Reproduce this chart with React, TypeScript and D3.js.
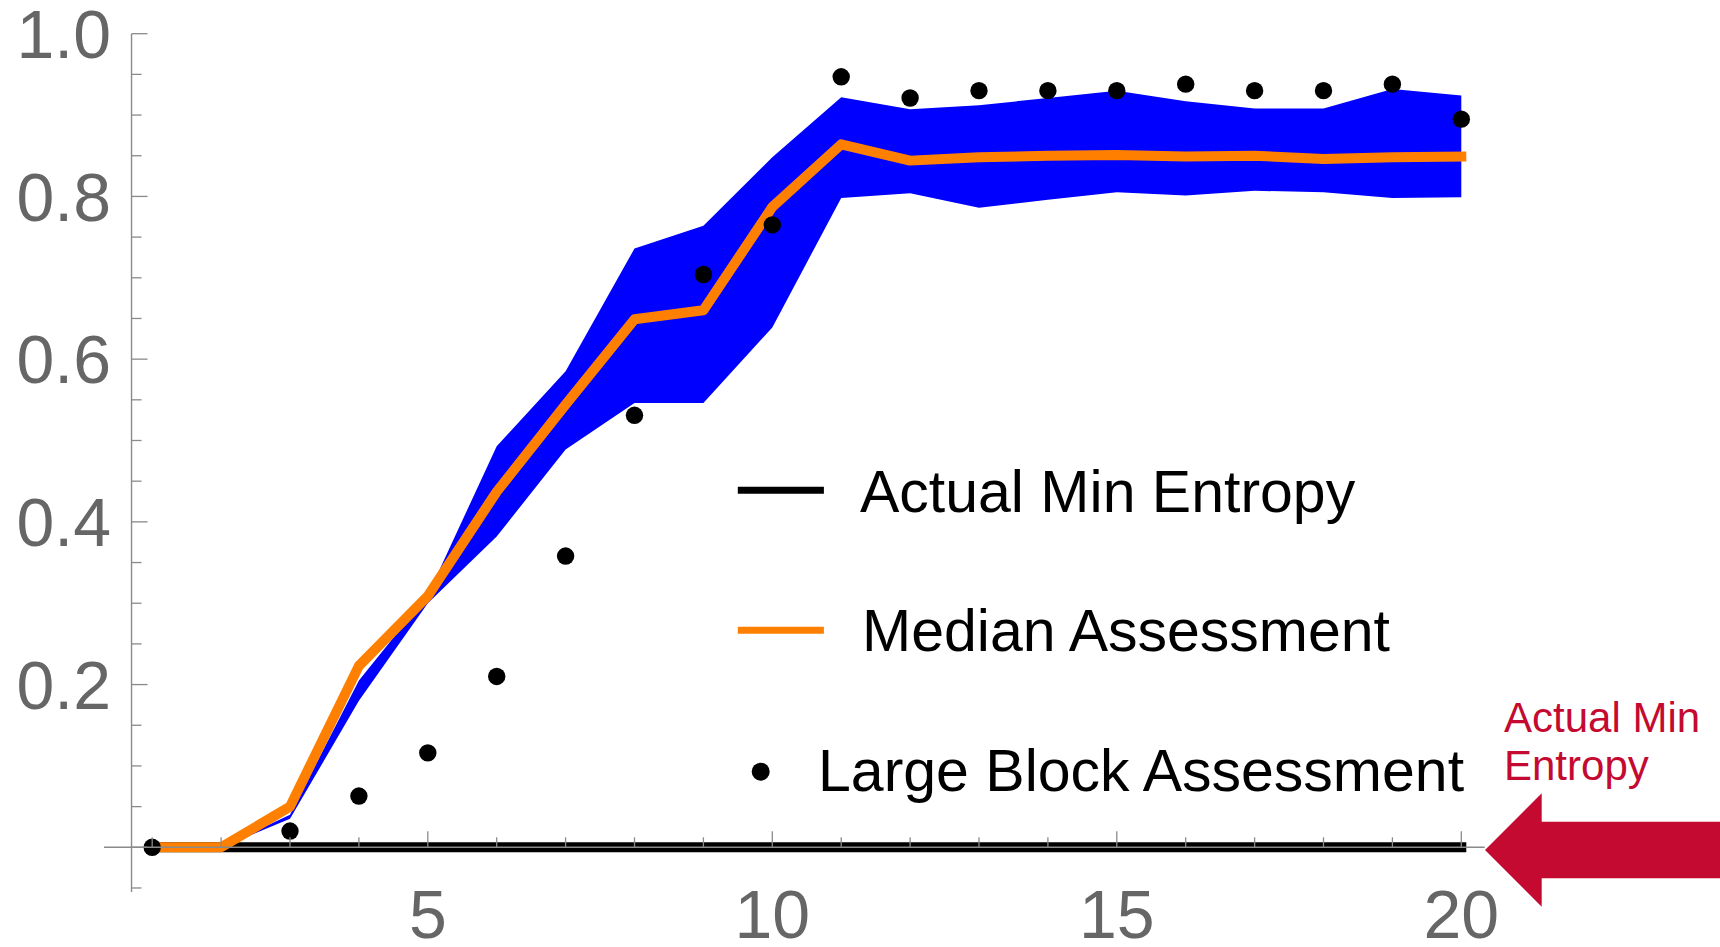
import React from "react";
import * as d3 from "d3";

// ---- data ----
const X_VALUES = [1, 2, 3, 4, 5, 6, 7, 8, 9, 10, 11, 12, 13, 14, 15, 16, 17, 18, 19, 20];
const ACTUAL_MIN_ENTROPY = [0, 0, 0, 0, 0, 0, 0, 0, 0, 0, 0, 0, 0, 0, 0, 0, 0, 0, 0, 0];
const MEDIAN = [0, 0, 0.05, 0.223, 0.309, 0.437, 0.544, 0.649, 0.66, 0.787, 0.864, 0.844, 0.848, 0.85, 0.851, 0.849, 0.85, 0.846, 0.848, 0.849];
const BAND_UPPER = [0, 0, 0.04, 0.205, 0.31, 0.493, 0.585, 0.736, 0.764, 0.848, 0.922, 0.907, 0.912, 0.921, 0.93, 0.917, 0.908, 0.908, 0.932, 0.924];
const BAND_LOWER = [0, 0, 0.035, 0.18, 0.3, 0.382, 0.489, 0.546, 0.546, 0.639, 0.798, 0.804, 0.786, 0.796, 0.805, 0.801, 0.807, 0.805, 0.798, 0.799];
const LARGE_BLOCK: (number | null)[] = [0, null, 0.02, 0.063, 0.116, 0.21, 0.358, 0.531, 0.704, 0.765, 0.947, 0.921, 0.93, 0.93, 0.93, 0.938, 0.93, 0.93, 0.938, 0.895];

const Y_TICK_VALUES = [0.2, 0.4, 0.6, 0.8, 1.0];
const Y_TICK_LABELS = ["0.2", "0.4", "0.6", "0.8", "1.0"];
const X_TICK_VALUES = [5, 10, 15, 20];
const X_TICK_LABELS = ["5", "10", "15", "20"];

const LEGEND_LABELS = ["Actual Min Entropy", "Median Assessment", "Large Block Assessment"];
const ANNOTATION_LINES = ["Actual Min", "Entropy"];

// ---- styles ----
const FONT = "'Liberation Sans', Arial, Helvetica, sans-serif";
const AXIS_COLOR = "#8a8a8a";
const LABEL_COLOR = "#666666";
const BLUE = "#0000ff";
const ORANGE = "#ff8000";
const RED = "#c40a31";

export default function App() {
  const W = 1720;
  const H = 947;
  const x = d3.scaleLinear().domain([1, 20]).range([152.2, 1461.3]);
  const y = d3.scaleLinear().domain([0, 1]).range([847.3, 33.7]);

  const idx = X_VALUES.map((_, i) => i);

  const area = d3
    .area<number>()
    .x((i) => x(X_VALUES[i]))
    .y0((i) => y(BAND_LOWER[i]))
    .y1((i) => y(BAND_UPPER[i]));

  const lineOf = (vals: number[]) =>
    d3
      .line<number>()
      .x((i) => x(X_VALUES[i]))
      .y((i) => y(vals[i]))(idx) as string;

  const yAxisX = x(0.7);
  const yMinor = d3.range(-0.05, 1.0001, 0.05).map((v) => Math.round(v * 100) / 100);
  const xMinor = X_VALUES;

  const legendX0 = 737.8;
  const legendX1 = 823.9;
  const LEG_FS = 59;

  return (
    <svg
      width={W}
      height={H}
      style={{ position: "absolute", left: 0, top: 0, background: "#fff" }}
      fontFamily={FONT}
    >
      <rect x={0} y={0} width={W} height={H} fill="#fff" />
      {/* band */}
      <path d={area(idx) as string} fill={BLUE} />
      {/* actual min entropy */}
      <path d={lineOf(ACTUAL_MIN_ENTROPY)} fill="none" stroke="#000" strokeWidth={10} strokeLinecap="square" />
      {/* median */}
      <path d={lineOf(MEDIAN)} fill="none" stroke={ORANGE} strokeWidth={10} strokeLinejoin="round" strokeLinecap="square" />
      {/* large block points */}
      {idx.map((i) =>
        LARGE_BLOCK[i] === null ? null : (
          <circle key={"p" + i} cx={x(X_VALUES[i])} cy={y(LARGE_BLOCK[i] as number)} r={8.7} fill="#000" />
        )
      )}

      {/* axes */}
      <line x1={yAxisX} x2={yAxisX} y1={y(1.0)} y2={y(-0.055)} stroke={AXIS_COLOR} strokeWidth={1.4} />
      <line x1={x(0.3)} x2={x(20.34)} y1={y(0)} y2={y(0)} stroke={AXIS_COLOR} strokeWidth={1.4} />
      {yMinor.map((v) => {
        const major = Math.abs(Math.round(v * 5) - v * 5) < 1e-6 && v >= 0;
        return (
          <line
            key={"yt" + v}
            x1={yAxisX}
            x2={yAxisX + (major ? 16 : 10)}
            y1={y(v)}
            y2={y(v)}
            stroke={AXIS_COLOR}
            strokeWidth={1.3}
          />
        );
      })}
      {xMinor.map((v) => {
        const major = v % 5 === 0;
        return (
          <line
            key={"xt" + v}
            x1={x(v)}
            x2={x(v)}
            y1={y(0)}
            y2={y(0) - (major ? 16 : 10)}
            stroke={AXIS_COLOR}
            strokeWidth={1.3}
          />
        );
      })}
      {Y_TICK_VALUES.map((v, i) => (
        <text
          key={"yl" + v}
          x={111}
          y={y(v) + 68 * 0.358}
          textAnchor="end"
          fontSize={68}
          fill={LABEL_COLOR}
        >
          {Y_TICK_LABELS[i]}
        </text>
      ))}
      {X_TICK_VALUES.map((v, i) => (
        <text key={"xl" + v} x={x(v)} y={938} textAnchor="middle" fontSize={68} fill={LABEL_COLOR}>
          {X_TICK_LABELS[i]}
        </text>
      ))}

      {/* legend */}
      <line x1={legendX0} x2={legendX1} y1={490.3} y2={490.3} stroke="#000" strokeWidth={7} />
      <text x={860} y={511.7} fontSize={LEG_FS} fill="#000">
        {LEGEND_LABELS[0]}
      </text>
      <line x1={legendX0} x2={legendX1} y1={630.3} y2={630.3} stroke={ORANGE} strokeWidth={7} />
      <text x={862} y={651} fontSize={LEG_FS} fill="#000">
        {LEGEND_LABELS[1]}
      </text>
      <circle cx={760.7} cy={771.7} r={9} fill="#000" />
      <text x={818} y={790.7} fontSize={LEG_FS} fill="#000">
        {LEGEND_LABELS[2]}
      </text>

      {/* annotation */}
      {ANNOTATION_LINES.map((t, i) => (
        <text key={"an" + i} x={1504} y={731.5 + i * 48.5} fontSize={42} fill={RED}>
          {t}
        </text>
      ))}
      <path
        d="M1485,850 L1541.7,793.3 L1541.7,821.7 L1720,821.7 L1720,878.3 L1541.7,878.3 L1541.7,906.7 Z"
        fill={RED}
      />
    </svg>
  );
}
